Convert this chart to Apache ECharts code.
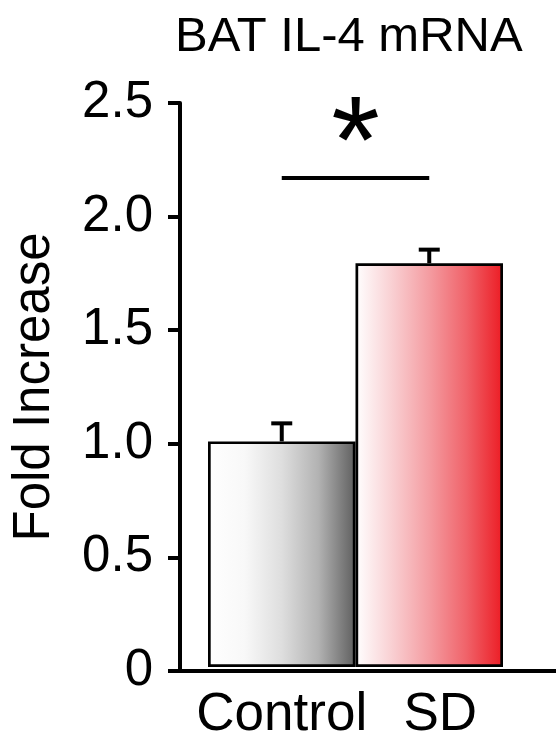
<!DOCTYPE html>
<html>
<head>
<meta charset="utf-8">
<title>BAT IL-4 mRNA</title>
<script src="https://cdn.jsdelivr.net/npm/echarts@6/dist/echarts.min.js"></script>
<style>
  html, body { margin: 0; padding: 0; background: #fff; }
  #chart { width: 556px; height: 742px; }
</style>
</head>
<body>
<div id="chart"></div>
<script>
// data
const categories = ['Control', 'SD']
const means = [1.0, 1.79]
const upperErr = [0.08, 0.06]
const yTicks = [0, 0.5, 1.0, 1.5, 2.0, 2.5]
const sigLevel = 2.17 // height of the significance line
const sigMark = '*'

const FONT = "'Liberation Sans', Arial, sans-serif"

const chart = echarts.init(document.getElementById('chart'))

const errData = categories.map((c, i) => [i, means[i], means[i] + upperErr[i]])

chart.setOption({
  animation: false,
  title: {
    text: 'BAT IL-4 mRNA',
    left: 170,
    top: 8,
    textStyle: { fontFamily: FONT, fontSize: 49, fontWeight: 'normal', color: '#000' }
  },
  grid: [
    // frame: y axis + long x axis line
    { left: 180, right: 0, top: 103, bottom: 71 },
    // bars
    { left: 208, right: 53, top: 103, bottom: 71 }
  ],
  xAxis: [
    {
      gridIndex: 0,
      type: 'value',
      min: 0,
      max: 1,
      axisLine: { show: true, lineStyle: { color: '#000', width: 4 } },
      axisTick: { show: false },
      axisLabel: { show: false },
      splitLine: { show: false }
    },
    {
      gridIndex: 1,
      type: 'category',
      data: categories,
      axisLine: { show: false },
      axisTick: { show: false },
      axisLabel: {
        interval: 0,
        hideOverlap: false,
        margin: 22,
        color: '#000',
        fontFamily: FONT,
        fontSize: 53,
        formatter: (v, i) => (i === 1 ? '{r|' + v + '}' : v),
        rich: {
          r: { fontFamily: FONT, fontSize: 53, color: '#000', padding: [0, 0, 0, 22] }
        }
      }
    }
  ],
  yAxis: [
    {
      gridIndex: 0,
      type: 'value',
      min: yTicks[0],
      max: yTicks[yTicks.length - 1],
      interval: 0.5,
      name: 'Fold Increase',
      nameLocation: 'middle',
      nameGap: 120,
      nameTextStyle: { fontFamily: FONT, fontSize: 51, color: '#000' },
      axisLine: { show: true, lineStyle: { color: '#000', width: 4 } },
      axisTick: { show: true, length: 12, lineStyle: { color: '#000', width: 4 } },
      axisLabel: {
        margin: 27,
        color: '#000',
        fontFamily: FONT,
        fontSize: 51,
        formatter: v => (v === 0 ? '0' : v.toFixed(1))
      },
      splitLine: { show: false }
    },
    {
      gridIndex: 1,
      type: 'value',
      min: yTicks[0],
      max: yTicks[yTicks.length - 1],
      show: false
    }
  ],
  series: [
    {
      type: 'bar',
      xAxisIndex: 1,
      yAxisIndex: 1,
      barWidth: '100%',
      barCategoryGap: 0,
      data: means.map((v, i) => ({
        value: v,
        itemStyle: {
          color: new echarts.graphic.LinearGradient(0, 0, 1, 0,
            i === 0
              ? [
                  { offset: 0, color: '#ffffff' },
                  { offset: 0.25, color: '#f8f8f8' },
                  { offset: 0.5, color: '#dedede' },
                  { offset: 0.75, color: '#b2b2b2' },
                  { offset: 1, color: '#5f5f5f' }
                ]
              : [
                  { offset: 0, color: '#ffffff' },
                  { offset: 0.25, color: '#f9cfd2' },
                  { offset: 0.5, color: '#f49ca1' },
                  { offset: 0.75, color: '#f0636a' },
                  { offset: 1, color: '#ec1c24' }
                ])
        }
      })),
      itemStyle: { borderColor: '#000', borderWidth: 2.7 },
      emphasis: { disabled: true },
      markLine: {
        silent: true,
        symbol: ['none', 'none'],
        lineStyle: { color: '#000', width: 4, type: 'solid' },
        label: {
          show: true,
          position: 'middle',
          formatter: sigMark,
          color: '#000',
          fontFamily: FONT,
          fontSize: 125,
          distance: -34
        },
        data: [[{ coord: [0, sigLevel] }, { coord: [1, sigLevel] }]]
      }
    },
    {
      type: 'custom',
      xAxisIndex: 1,
      yAxisIndex: 1,
      data: errData,
      silent: true,
      renderItem(params, api) {
        const x = api.value(0)
        const base = api.coord([x, api.value(1)])
        const top = api.coord([x, api.value(2)])
        const half = 10.5
        return {
          type: 'group',
          children: [
            {
              type: 'line',
              shape: { x1: base[0], y1: base[1], x2: top[0], y2: top[1] },
              style: { stroke: '#000', lineWidth: 4 }
            },
            {
              type: 'line',
              shape: { x1: top[0] - half, y1: top[1], x2: top[0] + half, y2: top[1] },
              style: { stroke: '#000', lineWidth: 4 }
            }
          ]
        }
      },
      z: 3
    }
  ]
})
</script>
</body>
</html>
